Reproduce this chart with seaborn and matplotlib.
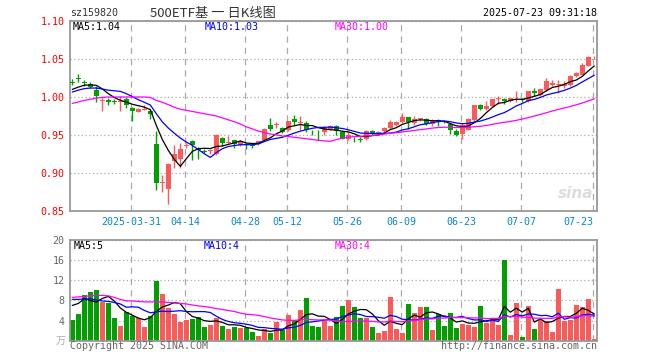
import matplotlib
matplotlib.use("Agg")
import matplotlib.pyplot as plt
import seaborn as sns
import numpy as np
import pandas as pd

# trading days on the chart (exchange holidays removed)
holidays = ["2025-04-04", "2025-05-01", "2025-05-02", "2025-05-05", "2025-06-02"]
dates = [d.strftime("%Y-%m-%d") for d in pd.bdate_range("2025-03-17", "2025-07-23")
         if d.strftime("%Y-%m-%d") not in holidays]

tick_dates = ["2025-03-31", "2025-04-14", "2025-04-28", "2025-05-12", "2025-05-26",
              "2025-06-09", "2025-06-23", "2025-07-07", "2025-07-23"]
tick_labels = ["2025-03-31", "04-14", "04-28", "05-12", "05-26",
               "06-09", "06-23", "07-07", "07-23"]

open_ = [1.0200, 1.0252, 1.0200, 1.0174, 1.0095, 0.9952, 0.9955, 0.9944, 0.9938, 0.9977,
         0.9858, 0.9801, 0.9837, 0.9820, 0.9385, 0.8876, 0.8793, 0.9153, 0.9183, 0.9360,
         0.9424, 0.9310, 0.9287, 0.9288, 0.9249, 0.9460, 0.9404, 0.9430, 0.9372, 0.9375,
         0.9366, 0.9380, 0.9430, 0.9635, 0.9632, 0.9590, 0.9569, 0.9714, 0.9663, 0.9657,
         0.9543, 0.9543, 0.9540, 0.9578, 0.9620, 0.9534, 0.9450, 0.9463, 0.9449, 0.9446,
         0.9556, 0.9512, 0.9547, 0.9591, 0.9635, 0.9666, 0.9731, 0.9653, 0.9711, 0.9709,
         0.9648, 0.9700, 0.9682, 0.9648, 0.9556, 0.9512, 0.9569, 0.9700, 0.9890, 0.9841,
         0.9885, 0.9983, 0.9977, 0.9942, 0.9957, 0.9967, 0.9942, 1.0082, 1.0029, 1.0095,
         1.0152, 1.0158, 1.0140, 1.0161, 1.0270, 1.0293, 1.0410, 1.0497]
high = [1.0235, 1.0297, 1.0227, 1.0200, 1.0140, 1.0000, 0.9985, 0.9970, 1.0007, 0.9994,
        0.9875, 0.9853, 0.9893, 0.9840, 0.9550, 0.8976, 0.9130, 0.9372, 0.9400, 0.9400,
        0.9440, 0.9340, 0.9320, 0.9320, 0.9510, 0.9470, 0.9490, 0.9440, 0.9430, 0.9390,
        0.9390, 0.9425, 0.9590, 0.9723, 0.9665, 0.9600, 0.9690, 0.9758, 0.9754, 0.9680,
        0.9570, 0.9560, 0.9620, 0.9630, 0.9630, 0.9570, 0.9535, 0.9475, 0.9475, 0.9570,
        0.9565, 0.9550, 0.9600, 0.9700, 0.9680, 0.9790, 0.9740, 0.9753, 0.9730, 0.9730,
        0.9715, 0.9715, 0.9700, 0.9660, 0.9578, 0.9657, 0.9722, 0.9900, 0.9912, 0.9942,
        0.9980, 1.0008, 0.9985, 0.9990, 1.0073, 0.9985, 1.0085, 1.0120, 1.0110, 1.0250,
        1.0220, 1.0225, 1.0205, 1.0285, 1.0335, 1.0445, 1.0540, 1.0540]
low = [1.0156, 1.0200, 1.0140, 1.0120, 0.9933, 0.9820, 0.9897, 0.9910, 0.9820, 0.9853,
       0.9680, 0.9797, 0.9823, 0.9709, 0.8780, 0.8756, 0.8594, 0.9070, 0.9064, 0.9325,
       0.9170, 0.9185, 0.9260, 0.9250, 0.9240, 0.9350, 0.9390, 0.9330, 0.9360, 0.9310,
       0.9330, 0.9370, 0.9420, 0.9550, 0.9590, 0.9530, 0.9550, 0.9635, 0.9570, 0.9540,
       0.9505, 0.9440, 0.9500, 0.9570, 0.9500, 0.9445, 0.9440, 0.9405, 0.9405, 0.9430,
       0.9500, 0.9500, 0.9540, 0.9585, 0.9625, 0.9655, 0.9580, 0.9635, 0.9680, 0.9635,
       0.9625, 0.9625, 0.9660, 0.9517, 0.9490, 0.9446, 0.9560, 0.9690, 0.9825, 0.9830,
       0.9875, 0.9912, 0.9910, 0.9935, 0.9930, 0.9930, 0.9935, 1.0010, 1.0015, 1.0085,
       1.0150, 1.0055, 1.0120, 1.0150, 1.0265, 1.0285, 1.0405, 1.0495]
close = [1.0193, 1.0246, 1.0193, 1.0130, 1.0007, 0.9958, 0.9935, 0.9938, 0.9944, 0.9897,
         0.9810, 0.9840, 0.9843, 0.9779, 0.8867, 0.8882, 0.9122, 0.9253, 0.9315, 0.9366,
         0.9363, 0.9304, 0.9281, 0.9294, 0.9503, 0.9394, 0.9410, 0.9385, 0.9416, 0.9369,
         0.9360, 0.9416, 0.9583, 0.9583, 0.9638, 0.9540, 0.9679, 0.9666, 0.9669, 0.9570,
         0.9537, 0.9537, 0.9587, 0.9620, 0.9547, 0.9450, 0.9503, 0.9457, 0.9443, 0.9547,
         0.9512, 0.9540, 0.9591, 0.9666, 0.9670, 0.9731, 0.9666, 0.9714, 0.9717, 0.9648,
         0.9692, 0.9665, 0.9676, 0.9570, 0.9503, 0.9635, 0.9709, 0.9890, 0.9846, 0.9885,
         0.9977, 0.9989, 0.9942, 0.9986, 0.9964, 0.9961, 1.0082, 1.0052, 1.0104, 1.0205,
         1.0183, 1.0164, 1.0175, 1.0280, 1.0315, 1.0425, 1.0520, 1.0503]

# volume in 万手
volume = [4.1, 5.3, 9.1, 9.7, 10.1, 7.7, 7.4, 4.5, 2.9, 5.7,
          4.9, 4.5, 2.8, 4.9, 11.9, 9.3, 6.5, 5.3, 3.8, 4.1,
          4.4, 4.8, 2.8, 3.1, 4.6, 2.9, 2.4, 2.8, 2.6, 2.5,
          1.8, 1.0, 2.3, 1.6, 3.7, 2.1, 5.1, 4.1, 6.1, 8.5,
          2.9, 2.8, 3.9, 2.9, 4.7, 6.9, 8.1, 6.7, 4.6, 4.5,
          2.7, 1.5, 2.0, 8.7, 2.3, 1.5, 7.3, 5.6, 6.7, 6.7,
          2.2, 5.4, 2.9, 5.5, 2.5, 3.4, 3.2, 2.7, 6.9, 3.5,
          4.6, 3.1, 16.0, 1.1, 7.5, 0.7, 6.9, 2.3, 4.2, 3.9,
          1.7, 10.3, 4.0, 4.1, 7.1, 6.7, 8.3, 0.3]

# moving-average values at the left edge (they depend on days before the window)
ma5_head = [1.010, 1.013, 1.0155, 1.016]
ma10_head = [1.0065, 1.009, 1.011, 1.0118, 1.0118, 1.0105, 1.009, 1.0082, 1.0074]
ma30_head = [0.9915, 0.9935, 0.9955, 0.997, 0.9985, 0.9995, 1.0, 1.0, 1.0, 1.0,
             1.0, 1.0, 1.0, 0.9995, 0.9955, 0.993, 0.990, 0.9865, 0.984, 0.9825,
             0.981, 0.9795, 0.978, 0.9765, 0.975, 0.9725, 0.970, 0.9675, 0.9645]
vma5_head = [7.0, 7.4, 8.3, 8.0]
vma10_head = [8.2, 8.2, 8.3, 8.3, 8.1, 7.9, 7.8, 7.6, 7.3]
vma30_head = [8.6, 8.7, 8.8, 8.9, 9.0, 9.0, 8.9, 8.6, 8.2, 7.9,
              7.9, 7.8, 7.7, 7.7, 7.7, 7.7, 7.6, 7.5, 7.4, 7.3,
              7.1, 6.9, 6.8, 6.6, 6.4, 6.2, 6.0, 5.8, 5.5]

RED = "#ff5858"
GREEN = "#00a000"
GRID = "#aaaaaa"
BORDER = "#999999"
DATE_BLUE = "#0a84d6"
MONO = "DejaVu Sans Mono"


def moving_average(values, n, head):
    ma = pd.Series(values, dtype=float).rolling(n).mean()
    ma.iloc[:len(head)] = head
    return ma.values


def style_panel(ax):
    for s in ax.spines.values():
        s.set_color(BORDER)
        s.set_linewidth(1.3)
    ax.grid(True, axis="y", color=GRID, linestyle=(0, (1, 2)), lw=0.9)
    ax.grid(True, axis="x", color=GRID, linestyle=(0, (5, 4)), lw=0.9)
    ax.set_axisbelow(True)


sns.set_style("white")
plt.rcParams["font.family"] = [MONO, "Noto Sans CJK SC"]

W, H = 660, 360
fig = plt.figure(figsize=(W / 100, H / 100), dpi=100)

df = pd.DataFrame({"date": dates, "open": open_, "high": high, "low": low,
                   "close": close, "volume": volume})
df["idx"] = np.arange(len(df))
df["up"] = df["close"] >= df["open"]
colors = np.where(df["up"], RED, GREEN)
tick_pos = [dates.index(d) - 0.2 for d in tick_dates]

ax = fig.add_axes([70 / W, 1 - 211 / H, 527.3 / W, 190 / H])
axv = fig.add_axes([70 / W, 1 - 340.7 / H, 527.3 / W, 100.7 / H])

# candles
body = np.maximum((df["close"] - df["open"]).abs(), 0.0012)
mid = (df["close"] + df["open"]) / 2
ax.vlines(df["idx"], df["low"], df["high"], colors=colors, lw=1, zorder=2)
ax.bar(df["idx"], body, bottom=mid - body / 2, width=0.8, color=colors, lw=0, zorder=3)

ma_lines = [(5, ma5_head, "black"), (10, ma10_head, "#0000ff"), (30, ma30_head, "#ff00ff")]
for n, head, col in ma_lines:
    sns.lineplot(x=df["idx"], y=moving_average(close, n, head), color=col, lw=0.9, ax=ax, zorder=4)

# volume
axv.bar(df["idx"], df["volume"], width=0.82, color=colors, lw=0, zorder=2)
vma_lines = [(5, vma5_head, "black"), (10, vma10_head, "#0000ff"), (30, vma30_head, "#ff00ff")]
for n, head, col in vma_lines:
    sns.lineplot(x=df["idx"], y=moving_average(volume, n, head), color=col, lw=0.9, ax=axv, zorder=4)

# axes
ax.set_xlim(-0.38, 87.5)
ax.set_ylim(0.85, 1.10)
ax.set_yticks([0.85, 0.90, 0.95, 1.00, 1.05, 1.10])
ax.set_yticklabels([f"{v:.2f}" for v in [0.85, 0.90, 0.95, 1.00, 1.05, 1.10]])
ax.set_xticks(tick_pos)
ax.set_xticklabels(tick_labels)
ax.get_xticklabels()[-1].set_ha("right")
ax.tick_params(axis="y", length=0, pad=4, labelcolor="red", labelsize=7.2)
ax.tick_params(axis="x", length=0, pad=4.5, labelcolor=DATE_BLUE, labelsize=7.2)
ax.set_xlabel("")
ax.set_ylabel("")
style_panel(ax)

axv.set_xlim(-0.38, 87.5)
axv.set_ylim(0, 20)
axv.set_yticks([4, 8, 12, 16, 20])
axv.set_yticklabels(["4", "8", "12", "16", "20"])
axv.set_xticks(tick_pos)
axv.set_xticklabels([])
axv.tick_params(axis="y", length=0, pad=4, labelcolor="#666666", labelsize=7.2)
axv.tick_params(axis="x", length=0)
axv.set_xlabel("")
axv.set_ylabel("")
style_panel(axv)


def put(x, y, s, **kw):
    kw.setdefault("fontsize", 7.2)
    kw.setdefault("va", "center")
    fig.text(x / W, 1 - y / H, s, **kw)


# header
put(70, 13, "sz159820", color="#333333")
put(150, 13, "500ETF基 一 日K线图", color="#333333", fontsize=9.5,
    family=["Noto Sans CJK SC", MONO])
put(597, 13, "2025-07-23 09:31:18", color="black", ha="right")

# moving-average captions
put(73, 27, "MA5:1.04", color="black")
put(205, 27, "MA10:1.03", color="#0000ff")
put(335, 27, "MA30:1.00", color="#ff00ff")
put(74, 246, "MA5:5", color="black")
put(204, 246, "MA10:4", color="#0000ff")
put(335, 246, "MA30:4", color="#ff00ff")

# unit and footer
put(66, 341, "万", color="#aaaaaa", ha="right", family=["Noto Sans CJK SC", MONO])
put(70, 346, "Copyright 2025 SINA.COM", color="#666666")
put(597, 346, "http://finance.sina.com.cn", color="#666666", ha="right")

# sina watermark
put(593, 193, "sina", color="#dddddd", ha="right", fontsize=11, fontstyle="italic",
    fontweight="bold", family="DejaVu Sans")

fig.savefig("out.png", dpi=100)
